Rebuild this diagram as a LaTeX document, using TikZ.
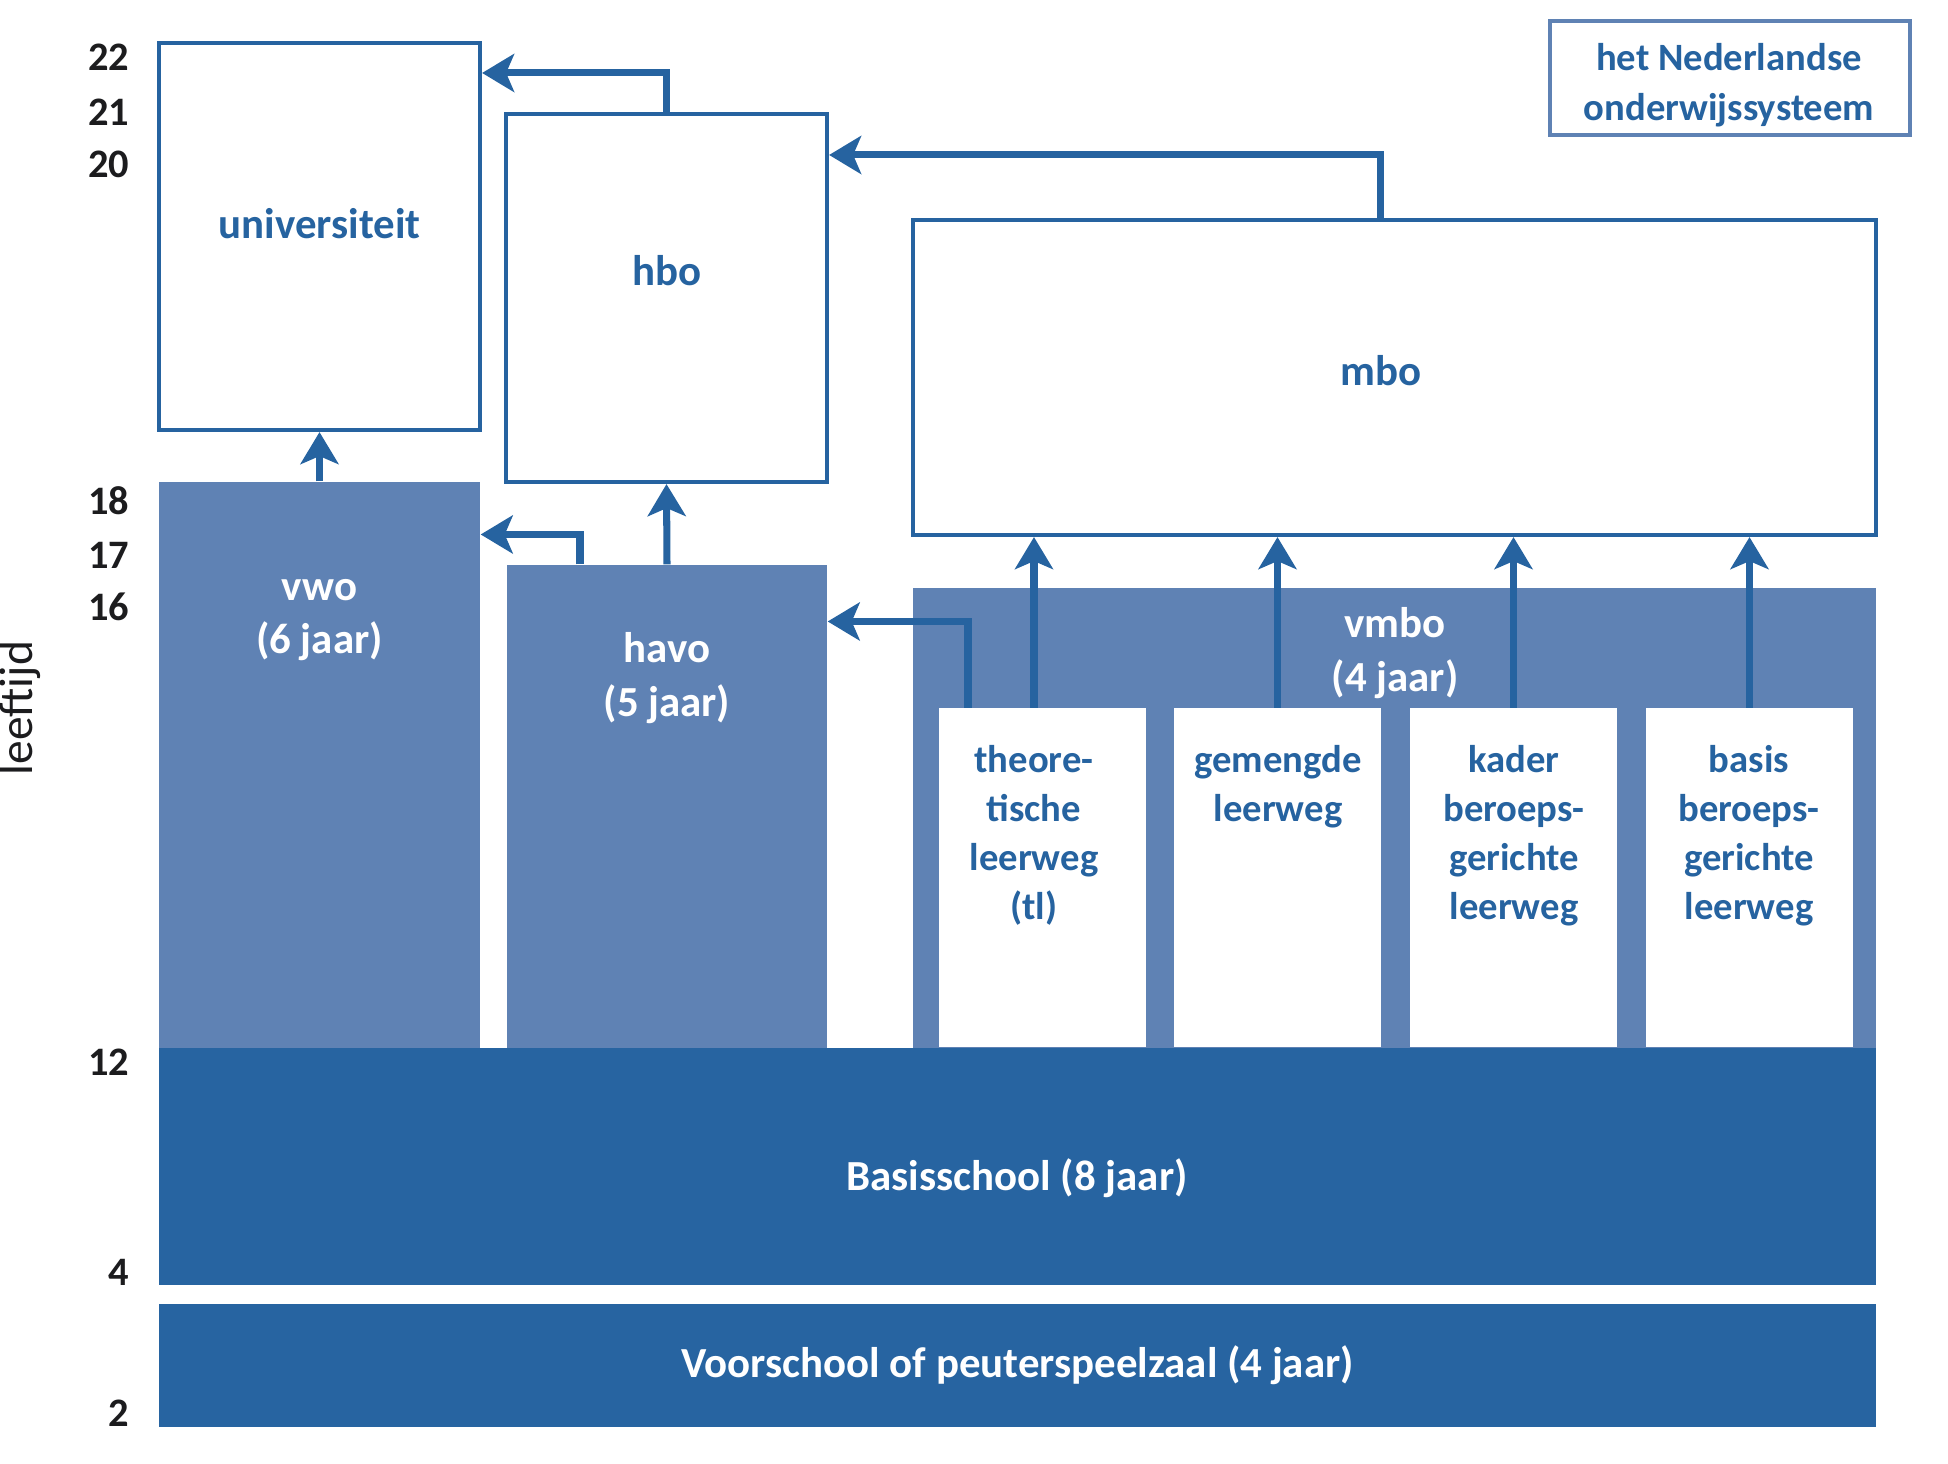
\documentclass[tikz,border=0pt]{standalone}
\usepackage{fontspec}
\setmainfont{Carlito}
\usetikzlibrary{arrows.meta,positioning}
\definecolor{lineblue}{RGB}{38,99,160}
\definecolor{midblue}{RGB}{95,130,180}
\definecolor{darkblue}{RGB}{39,100,161}
\definecolor{agegray}{RGB}{28,28,30}
\tikzset{
  frame/.style={draw=lineblue, line width=1.2pt, fill=white, inner sep=0pt},
  block/.style={fill=midblue, inner sep=0pt},
  baseblock/.style={fill=darkblue, inner sep=0pt, text=white, font=\fontsize{12.2}{14}\selectfont\bfseries},
  pad/.style={fill=white, inner sep=0pt, minimum width=2.07cm, minimum height=3.39cm},
  txt/.style={text=lineblue, font=\fontsize{12.2}{15.3}\selectfont\bfseries, align=center, inner sep=0pt},
  wtxt/.style={txt, text=white},
  padtxt/.style={txt, font=\fontsize{11}{13.9}\selectfont\bfseries, anchor=north},
  age/.style={font=\fontsize{11.5}{14}\selectfont\bfseries, text=agegray, anchor=east, inner sep=0pt},
  arr/.style={draw=lineblue, line width=2pt, -{Stealth[length=3.2mm,width=3.8mm,inset=0.8mm]}}
}
\begin{document}
\begin{tikzpicture}
    \useasboundingbox (0,0) rectangle (19.48,14.64);
    % top row
    \node [frame, minimum width=3.21cm, minimum height=3.87cm] (univ) at (3.195,12.275) {};
    \node [frame, minimum width=3.21cm, minimum height=3.68cm] (hbo) at (6.665,11.66) {};
    \node [frame, minimum width=9.63cm, minimum height=3.15cm] (mbo) at (13.945,10.865) {};
    \node [txt] (univtxt) at (3.195,12.40) {universiteit};
    \node [txt] (hbotxt) at (6.67,11.93) {hbo};
    \node [txt] (mbotxt) at (13.81,10.93) {mbo};
    % secondary school
    \node [block, minimum width=3.21cm, minimum height=5.66cm] (vwo) at (3.195,6.99) {};
    \node [block, minimum width=3.20cm, minimum height=4.83cm] (havo) at (6.67,6.575) {};
    \node [block, minimum width=9.63cm, minimum height=4.60cm] (vmbo) at (13.945,6.46) {};
    \node [wtxt] (vwotxt) at (3.195,8.44) {vwo\\(6 jaar)};
    \node [wtxt] (havotxt) at (6.67,7.86) {havo\\(5 jaar)};
    \node [wtxt] (vmbotxt) at (13.95,8.11) {vmbo\\(4 jaar)};
    % leerwegen
    \node [pad] (tl) at (10.425,5.86) {};\node [pad] (gl) at (12.775,5.86) {};
    \node [pad] (kl) at (15.135,5.86) {};\node [pad] (bl) at (17.495,5.86) {};
    \node [padtxt] (tltxt) at (10.34,7.19) {theore-\\tische\\leerweg\\(tl)};
    \node [padtxt] (gltxt) at (12.78,7.19) {gemengde\\leerweg};
    \node [padtxt] (kltxt) at (15.14,7.19) {kader\\beroeps-\\gerichte\\leerweg};
    \node [padtxt] (bltxt) at (17.49,7.19) {basis\\beroeps-\\gerichte\\leerweg};
    % primary school
    \node [baseblock, minimum width=17.17cm, minimum height=2.37cm] (basis) at (10.175,2.975) {};
    \node [wtxt] (basistxt) at (10.17,2.86) {Basisschool (8 jaar)};
    \node [baseblock, minimum width=17.17cm, minimum height=1.23cm] (voor) at (10.175,0.985) {Voorschool of peuterspeelzaal (4 jaar)};
    % arrows
    \draw [arr] (vwo.north) -- (univ.south);
    \draw [arr] (havo.north) -- (hbo.south);
    \draw [arr] (hbo.north) |- ([yshift=1.635cm]univ.east);
    \draw [arr] ([xshift=-0.87cm]havo.north) |- ([yshift=2.305cm]vwo.east);
    \draw [arr] ([xshift=-0.145cm]mbo.north) |- ([yshift=1.43cm]hbo.east);
    \draw [arr] ([xshift=-0.745cm]tl.north) |- ([yshift=1.85cm]havo.east);
    \draw [arr] ([xshift=-0.085cm]tl.north) -- ([xshift=-0.085cm]tl.north |- mbo.south);
    \foreach \p in {gl,kl,bl} \draw [arr] (\p.north) -- (\p.north |- mbo.south);
    % ages
    \foreach \a/\y in {22/14.07,21/13.52,20/13.00,18/9.63,17/9.09,16/8.57,12/4.02,4/1.92,2/0.51}
        \node [age] (age\a) at (1.30,\y) {\a};
    \node [rotate=90, anchor=base, inner sep=0pt, text=agegray, font=\fontsize{13.5}{16}\selectfont] (leeftijd) at (0.32,7.56) {leeftijd};
    % title
    \node [frame, draw=midblue, line width=1.1pt, minimum width=3.60cm, minimum height=1.14cm] (title) at (17.30,13.86) {};
    \node [txt, font=\fontsize{11}{14.2}\selectfont\bfseries] (titletxt) at (17.29,13.79) {het Nederlandse\\onderwijssysteem};
\end{tikzpicture}
\end{document}
